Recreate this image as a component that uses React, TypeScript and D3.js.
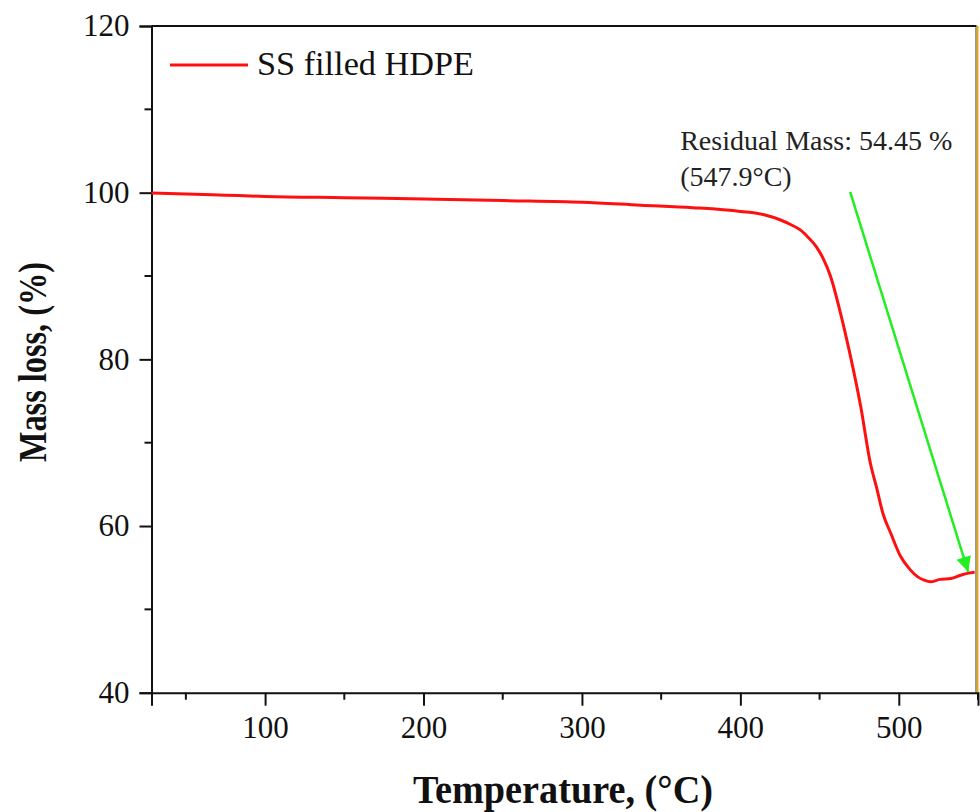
import React, { useEffect, useRef } from "react";
import * as d3 from "d3";

// TGA curve
const temperature = [28.3, 50, 75, 100, 150, 200, 250, 300, 337, 370, 400, 415, 425, 432, 438, 443, 448, 452, 457, 463, 469, 476, 482, 486, 490, 495, 501, 507, 512, 516, 520, 526, 533, 539, 544, 547.9];
const massLoss = [99.95, 99.85, 99.7, 99.55, 99.4, 99.25, 99.05, 98.85, 98.5, 98.2, 97.75, 97.35, 96.75, 96.15, 95.5, 94.6, 93.5, 92.2, 89.9, 85.7, 80.8, 74.3, 67.6, 64.6, 61.5, 59.1, 56.4, 54.8, 53.9, 53.5, 53.3, 53.6, 53.7, 54.1, 54.35, 54.45];

const xMajorTicks = [100, 200, 300, 400, 500];
const xMinorTicks = [50, 150, 250, 350, 450, 550];
const yMajorTicks = [40, 60, 80, 100, 120];
const yMinorTicks = [50, 70, 90, 110];

const seriesName = "SS filled HDPE";
const annotationLines = ["Residual Mass: 54.45 %", "(547.9°C)"];
// annotation text anchor (T, mass) and arrow from/to in data units
const annotationAt = [362, 105.1];
const arrowFrom = [469.3, 100.1];
const arrowTo = [543.8, 54.5];

const W = 980;
const H = 812;
const FONT = "'Liberation Serif', 'Times New Roman', serif";

const TgaChart = () => {
  const ref = useRef<SVGSVGElement | null>(null);

  useEffect(() => {
    const svg = d3.select(ref.current);
    svg.selectAll("*").remove();

    const left = 151.5, right = 978, top = 26, bottom = 692.7;

    const x = d3.scaleLinear().domain([28.3, 550]).range([left, right]);
    const y = d3.scaleLinear().domain([40, 120]).range([bottom, top]);

    const data = temperature.map((t, i) => [t, massLoss[i]] as [number, number]);

    // frame: top black, right orange-ish edge
    svg.append("line")
      .attr("x1", left).attr("x2", right - 1.5)
      .attr("y1", top).attr("y2", top)
      .attr("stroke", "#111").attr("stroke-width", 2);
    svg.append("line")
      .attr("x1", right - 2).attr("x2", right - 2)
      .attr("y1", top).attr("y2", bottom)
      .attr("stroke", "#333").attr("stroke-width", 1);
    svg.append("line")
      .attr("x1", right - 0.5).attr("x2", right - 0.5)
      .attr("y1", top).attr("y2", bottom)
      .attr("stroke", "#e6a817").attr("stroke-width", 2);

    // x axis
    const gx = svg.append("g").attr("transform", `translate(0,${bottom})`);
    gx.call(d3.axisBottom(x).tickValues(xMajorTicks).tickSize(13).tickPadding(10).tickFormat(d3.format("d")))
      .call((g) => g.select(".domain").attr("stroke", "#111").attr("stroke-width", 2))
      .call((g) => g.selectAll(".tick line").attr("stroke", "#111").attr("stroke-width", 2))
      .call((g) => g.selectAll(".tick text")
        .attr("font-family", FONT).attr("font-size", 31).attr("fill", "#111"));
    gx.selectAll(".minor")
      .data(xMinorTicks)
      .enter()
      .append("line")
      .attr("class", "minor")
      .attr("x1", (d) => x(d)).attr("x2", (d) => x(d))
      .attr("y1", 0).attr("y2", 7)
      .attr("stroke", "#111").attr("stroke-width", 2);

    // y axis
    const gy = svg.append("g").attr("transform", `translate(${left},0)`);
    gy.call(d3.axisLeft(y).tickValues(yMajorTicks).tickSize(12).tickPadding(10).tickFormat(d3.format("d")))
      .call((g) => g.select(".domain").attr("stroke", "#111").attr("stroke-width", 2))
      .call((g) => g.selectAll(".tick line").attr("stroke", "#111").attr("stroke-width", 2))
      .call((g) => g.selectAll(".tick text")
        .attr("font-family", FONT).attr("font-size", 31).attr("fill", "#111"));
    gy.selectAll(".minor")
      .data(yMinorTicks)
      .enter()
      .append("line")
      .attr("class", "minor")
      .attr("x1", 0).attr("x2", -7)
      .attr("y1", (d) => y(d)).attr("y2", (d) => y(d))
      .attr("stroke", "#111").attr("stroke-width", 2);

    // axis titles
    svg.append("text")
      .attr("x", 563).attr("y", 803)
      .attr("text-anchor", "middle")
      .attr("font-family", FONT).attr("font-weight", "bold").attr("font-size", 40)
      .attr("textLength", 300).attr("lengthAdjust", "spacingAndGlyphs")
      .attr("fill", "#111")
      .text("Temperature, (°C)");
    svg.append("text")
      .attr("transform", "translate(46,362) rotate(-90)")
      .attr("text-anchor", "middle")
      .attr("font-family", FONT).attr("font-weight", "bold").attr("font-size", 40)
      .attr("textLength", 200).attr("lengthAdjust", "spacingAndGlyphs")
      .attr("fill", "#111")
      .text("Mass loss, (%)");

    // curve
    const line = d3.line<[number, number]>()
      .x((d) => x(d[0]))
      .y((d) => y(d[1]))
      .curve(d3.curveMonotoneX);
    svg.append("path")
      .datum(data)
      .attr("d", line)
      .attr("fill", "none")
      .attr("stroke", "#ff1010")
      .attr("stroke-width", 3)
      .attr("stroke-linejoin", "round");

    // legend
    svg.append("line")
      .attr("x1", 170).attr("x2", 248)
      .attr("y1", 65).attr("y2", 65)
      .attr("stroke", "#ff1010").attr("stroke-width", 3);
    svg.append("text")
      .attr("x", 257).attr("y", 75)
      .attr("font-family", FONT).attr("font-size", 33)
      .attr("textLength", 217).attr("lengthAdjust", "spacingAndGlyphs")
      .attr("fill", "#111")
      .text(seriesName);

    // annotation
    const note = svg.append("text")
      .attr("font-family", FONT).attr("font-size", 28).attr("fill", "#222");
    note.selectAll("tspan")
      .data(annotationLines)
      .enter()
      .append("tspan")
      .attr("x", x(annotationAt[0]))
      .attr("y", (d, i) => y(annotationAt[1]) + i * 36)
      .text((d) => d);

    const defs = svg.append("defs");
    defs.append("marker")
      .attr("id", "green-head")
      .attr("viewBox", "0 0 10 10")
      .attr("refX", 10).attr("refY", 5)
      .attr("markerWidth", 8).attr("markerHeight", 6)
      .attr("markerUnits", "strokeWidth")
      .attr("orient", "auto")
      .append("path")
      .attr("d", "M0,0 L10,5 L0,10 Z")
      .attr("fill", "#22ee22");
    svg.append("line")
      .attr("x1", x(arrowFrom[0])).attr("y1", y(arrowFrom[1]))
      .attr("x2", x(arrowTo[0])).attr("y2", y(arrowTo[1]))
      .attr("stroke", "#22ee22").attr("stroke-width", 2.5)
      .attr("marker-end", "url(#green-head)");
  }, []);

  return (
    <svg
      ref={ref}
      width={W}
      height={H}
      style={{ position: "absolute", left: 0, top: 0, background: "#fff" }}
    />
  );
};

export default function App() {
  return <TgaChart />;
}
